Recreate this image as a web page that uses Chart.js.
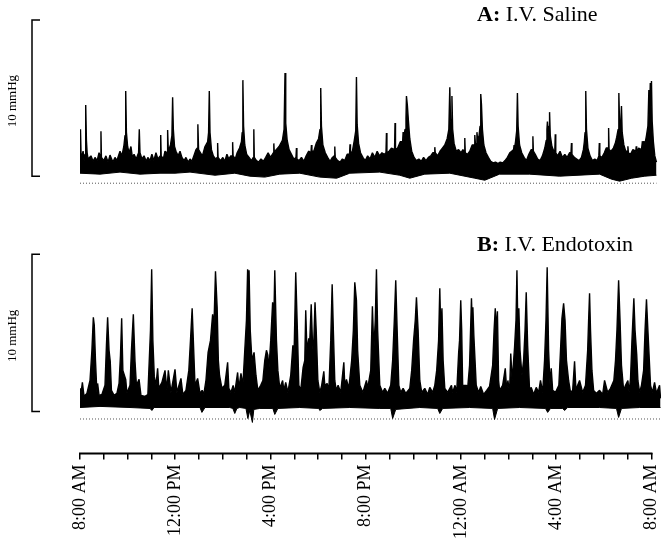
<!DOCTYPE html>
<html>
<head>
<meta charset="utf-8">
<title>Bladder pressure traces</title>
<script src="https://cdn.jsdelivr.net/npm/chart.js@4.4.1/dist/chart.umd.min.js"></script>
<style>
  html, body { margin: 0; padding: 0; background: #fff; }
  #tracesChart { display: block; }
</style>
</head>
<body>
<canvas id="tracesChart" width="666" height="540"></canvas>
<script>
/* =========================================
   Données lues sur la figure
   temps en heures depuis 8:00 AM, pression en mmHg
   ========================================= */
var hourTicks = [0, 1, 2, 3, 4, 5, 6, 7, 8, 9, 10, 11, 12, 13, 14, 15, 16, 17, 18, 19, 20, 21, 22, 23, 24];
var tickLabels = ['8:00 AM', '12:00 PM', '4:00 PM', '8:00 PM', '12:00 AM', '4:00 AM', '8:00 AM'];

// A: I.V. Saline - bord haut du tracé
var salineTrace = [
  [0,0.6],[0.02,3.01],[0.05,1.1],[0.13,1.6],[0.17,1.0],[0.21,1.4],[0.23,2.3],[0.25,4.55],[0.27,2.3],[0.30,1.5],
  [0.34,1.1],[0.46,1.3],[0.55,0.95],[0.63,1.2],[0.72,1.0],[0.80,1.5],[0.86,1.2],[0.88,2.88],[0.90,1.2],[1.00,1.0],
  [1.09,1.3],[1.18,0.9],[1.26,1.35],[1.38,0.9],[1.47,1.2],[1.55,1.0],[1.68,1.6],[1.76,1.3],[1.84,1.9],[1.89,2.6],
  [1.92,5.45],[1.95,2.8],[2.00,1.9],[2.06,1.5],[2.14,1.9],[2.20,1.2],[2.27,1.4],[2.36,1.1],[2.46,1.5],[2.49,3.01],
  [2.52,1.5],[2.60,1.1],[2.69,1.3],[2.78,0.95],[2.85,1.2],[2.94,1.0],[3.02,1.4],[3.10,1.0],[3.19,1.5],[3.27,1.1],
  [3.37,1.3],[3.39,2.63],[3.41,1.3],[3.50,1.1],[3.57,1.6],[3.66,1.5],[3.68,2.95],[3.71,1.6],[3.80,2.0],[3.86,2.6],
  [3.89,5.06],[3.92,3.0],[3.97,1.9],[4.03,1.6],[4.12,1.3],[4.20,1.6],[4.28,1.2],[4.37,1.0],[4.45,1.2],[4.54,0.9],
  [4.62,1.1],[4.70,0.95],[4.78,1.3],[4.87,1.7],[4.93,1.8],[4.95,3.33],[4.98,1.7],[5.06,1.5],[5.14,1.3],[5.25,1.9],
  [5.36,2.2],[5.40,2.8],[5.43,5.45],[5.46,2.8],[5.52,1.7],[5.60,1.3],[5.69,1.1],[5.76,1.2],[5.78,2.12],[5.80,1.2],
  [5.90,1.0],[6.00,1.2],[6.08,0.95],[6.17,1.4],[6.25,1.1],[6.33,1.3],[6.39,1.3],[6.41,2.18],[6.43,1.3],[6.52,1.1],
  [6.60,1.5],[6.70,1.8],[6.78,2.2],[6.81,2.8],[6.84,6.15],[6.87,3.2],[6.92,2.0],[7.00,1.4],[7.10,1.2],[7.20,1.0],
  [7.28,1.2],[7.30,3.01],[7.32,1.2],[7.41,1.0],[7.50,0.9],[7.60,1.1],[7.70,0.95],[7.80,1.2],[7.90,1.5],[8.00,1.2],
  [8.12,1.5],[8.14,2.1],[8.16,1.5],[8.24,1.7],[8.36,1.9],[8.50,2.3],[8.57,3.0],[8.61,6.60],[8.64,3.4],[8.70,2.3],
  [8.78,1.7],[8.88,1.4],[8.98,1.1],[9.07,1.2],[9.09,1.8],[9.11,1.1],[9.20,1.0],[9.30,1.2],[9.40,0.95],[9.50,1.3],
  [9.60,1.6],[9.70,1.5],[9.72,2.0],[9.74,1.6],[9.82,1.6],[9.92,2.1],[10.02,2.4],[10.08,3.0],[10.11,5.64],[10.14,3.2],
  [10.20,2.0],[10.30,1.5],[10.40,1.2],[10.50,0.95],[10.60,1.2],[10.68,1.3],[10.70,1.9],[10.72,1.2],[10.82,1.0],[10.92,0.9],
  [11.02,1.1],[11.12,1.0],[11.22,1.4],[11.32,1.4],[11.34,2.05],[11.36,1.4],[11.44,1.6],[11.52,2.3],[11.58,2.9],[11.61,6.35],
  [11.64,3.3],[11.70,2.1],[11.78,1.5],[11.88,1.2],[11.98,1.0],[12.08,1.3],[12.18,1.1],[12.28,1.5],[12.38,1.2],[12.48,1.6],
  [12.58,1.3],[12.68,1.5],[12.78,1.4],[12.85,1.5],[12.87,2.76],[12.89,1.5],[12.98,1.6],[13.08,1.8],[13.21,1.7],[13.23,3.40],
  [13.25,1.7],[13.34,1.8],[13.45,2.2],[13.55,2.2],[13.57,2.82],[13.59,2.4],[13.65,3.0],[13.69,3.7],[13.71,5.13],[13.75,4.5],
  [13.79,3.6],[13.85,2.4],[13.93,1.6],[14.03,1.2],[14.13,1.0],[14.23,1.1],[14.33,0.95],[14.43,1.2],[14.53,1.0],[14.63,1.2],
  [14.73,1.3],[14.82,1.5],[14.88,1.5],[14.90,1.86],[14.92,1.5],[15.02,1.3],[15.12,1.6],[15.22,1.8],[15.32,2.0],[15.42,2.4],
  [15.49,3.0],[15.53,5.70],[15.56,3.6],[15.59,3.4],[15.62,5.13],[15.65,3.0],[15.71,2.1],[15.80,1.6],[15.90,1.7],[16.00,1.5],
  [16.08,1.7],[16.14,1.6],[16.16,2.44],[16.18,1.5],[16.27,1.4],[16.37,1.6],[16.47,2.0],[16.56,2.0],[16.58,2.63],[16.61,2.0],
  [16.65,2.1],[16.67,2.82],[16.70,2.3],[16.76,2.6],[16.80,3.2],[16.83,5.26],[16.86,4.6],[16.90,3.0],[16.96,2.0],[17.05,1.5],
  [17.15,1.2],[17.25,0.95],[17.35,0.85],[17.45,0.9],[17.55,0.8],[17.65,0.9],[17.75,0.85],[17.85,1.0],[17.95,1.2],[18.05,1.5],
  [18.13,1.6],[18.21,1.7],[18.23,2.0],[18.25,1.8],[18.29,2.2],[18.34,2.9],[18.37,5.32],[18.40,3.2],[18.46,2.0],[18.55,1.5],
  [18.65,1.2],[18.75,1.0],[18.85,1.4],[18.95,1.7],[19.00,1.7],[19.02,2.56],[19.04,1.6],[19.12,1.4],[19.22,1.1],[19.32,1.0],
  [19.42,1.3],[19.52,1.8],[19.58,2.3],[19.61,3.0],[19.63,3.5],[19.66,2.8],[19.70,3.2],[19.72,4.10],[19.75,2.6],[19.82,1.9],
  [19.90,1.6],[19.94,1.6],[19.96,2.69],[19.98,1.5],[20.06,1.3],[20.16,1.6],[20.26,1.2],[20.36,1.4],[20.46,1.2],[20.56,1.5],
  [20.62,1.5],[20.64,2.12],[20.66,1.4],[20.76,1.2],[20.86,1.1],[20.96,1.0],[21.06,1.2],[21.14,1.7],[21.18,2.2],[21.21,2.8],
  [21.24,5.45],[21.27,3.0],[21.33,1.8],[21.42,1.3],[21.52,1.0],[21.62,1.1],[21.72,1.0],[21.79,1.3],[21.81,2.12],[21.83,1.3],
  [21.92,1.2],[22.02,1.5],[22.10,1.8],[22.18,1.8],[22.20,3.08],[22.22,1.7],[22.30,1.6],[22.40,1.8],[22.48,2.1],[22.54,2.5],
  [22.60,3.0],[22.63,5.32],[22.66,3.4],[22.70,3.0],[22.74,4.49],[22.77,2.8],[22.84,2.0],[22.92,1.6],[22.99,1.6],[23.01,1.92],
  [23.03,1.5],[23.12,1.4],[23.22,1.7],[23.34,1.6],[23.36,1.92],[23.38,1.5],[23.46,1.8],[23.58,1.7],[23.62,2.24],[23.64,1.9],
  [23.68,2.24],[23.72,2.0],[23.79,2.6],[23.85,3.2],[23.89,5.51],[23.92,4.0],[23.95,5.96],[23.97,4.5],[24.00,6.09],[24.03,3.5],
  [24.08,2.2],[24.14,1.3],[24.21,0.9]
];
// A - bord bas de la bande de bruit
var salineFloor = [
  [0,0.19],[0.84,0.13],[1.68,0.26],[2.52,0.13],[3.36,0.19],[3.99,0.19],[4.62,0.26],[5.67,0.06],[6.50,0.19],[7.13,0],
  [7.76,-0.06],[8.39,0.13],[9.23,0.19],[10.07,-0.06],[10.78,-0.13],[11.33,0.19],[12.59,0.26],[13.43,0.06],[13.85,-0.13],[14.48,0.13],
  [15.53,0.19],[16.58,-0.13],[17.00,-0.26],[17.62,0.13],[18.88,0.13],[20.14,0],[21.82,0.13],[22.32,-0.19],[22.66,-0.32],[23.17,-0.13],
  [23.72,0],[24.21,0.06]
];
var salineDotted = [[0,-0.45],[24.21,-0.45]];

// B: I.V. Endotoxin - bord haut du tracé
var endotoxinTrace = [
  [0,0.70],[0.01,1.47],[0.02,0.83],[0.10,1.85],[0.17,0.96],[0.29,1.15],[0.42,1.97],[0.50,3.89],[0.56,5.99],[0.60,5.48],
  [0.65,3.25],[0.71,1.21],[0.74,1.78],[0.80,1.02],[0.92,1.08],[1.05,1.66],[1.11,4.20],[1.16,5.99],[1.22,3.89],[1.27,3.19],
  [1.32,1.34],[1.43,1.02],[1.55,1.15],[1.64,1.78],[1.70,3.57],[1.75,5.92],[1.80,2.61],[1.92,2.04],[1.97,1.15],[2.10,1.66],
  [2.16,3.89],[2.24,6.18],[2.31,3.19],[2.37,1.66],[2.48,2.04],[2.56,1.02],[2.73,0.96],[2.85,1.08],[2.96,5.16],[3.01,9.05],
  [3.06,4.52],[3.12,2.23],[3.19,1.66],[3.26,2.74],[3.31,1.47],[3.44,1.85],[3.57,2.61],[3.65,1.34],[3.71,2.61],[3.82,1.21],
  [3.99,2.68],[4.07,1.21],[4.24,2.10],[4.32,1.08],[4.45,1.34],[4.57,2.61],[4.64,4.52],[4.71,6.56],[4.76,4.52],[4.83,1.66],
  [4.94,2.10],[5.04,1.15],[5.13,1.34],[5.20,1.08],[5.29,1.97],[5.38,3.76],[5.48,4.52],[5.57,6.18],[5.62,5.16],[5.69,8.92],
  [5.76,6.62],[5.81,3.25],[5.86,2.29],[5.96,1.47],[6.08,1.66],[6.20,3.12],[6.25,1.47],[6.34,1.21],[6.43,1.66],[6.50,1.21],
  [6.62,2.48],[6.67,1.47],[6.76,2.42],[6.84,1.66],[6.92,3.89],[6.99,5.80],[7.04,9.05],[7.07,7.07],[7.10,8.98],[7.15,5.16],
  [7.22,3.25],[7.31,3.76],[7.39,2.29],[7.47,1.34],[7.59,1.66],[7.68,1.97],[7.76,3.25],[7.83,3.89],[7.89,3.57],[7.93,2.61],
  [8.01,4.52],[8.09,6.94],[8.14,5.80],[8.18,8.98],[8.25,4.52],[8.31,2.61],[8.39,1.47],[8.51,1.97],[8.56,1.34],[8.64,1.85],
  [8.73,1.21],[8.85,2.29],[8.94,4.20],[8.98,2.93],[9.02,5.80],[9.06,8.85],[9.13,5.16],[9.19,1.66],[9.27,1.34],[9.37,2.80],
  [9.44,3.25],[9.48,6.43],[9.53,3.89],[9.61,4.65],[9.65,4.52],[9.71,6.82],[9.76,4.52],[9.80,3.57],[9.87,6.94],[9.92,5.16],
  [9.99,1.97],[10.07,1.21],[10.15,1.66],[10.24,2.55],[10.28,1.66],[10.38,1.78],[10.45,1.34],[10.53,4.52],[10.59,8.09],[10.64,5.16],
  [10.70,1.97],[10.76,1.34],[10.84,1.66],[10.95,1.21],[11.08,3.12],[11.12,1.66],[11.19,2.04],[11.29,1.47],[11.41,3.25],[11.48,5.16],
  [11.54,8.22],[11.61,7.07],[11.66,3.89],[11.75,1.66],[11.88,1.21],[12.03,1.97],[12.08,1.47],[12.21,2.61],[12.28,6.69],[12.34,3.89],
  [12.40,5.80],[12.45,9.05],[12.50,5.16],[12.59,1.66],[12.71,1.21],[12.80,1.47],[12.92,1.15],[13.05,1.66],[13.13,3.25],[13.20,5.80],
  [13.26,8.34],[13.32,5.16],[13.39,1.66],[13.47,1.21],[13.57,1.47],[13.68,1.15],[13.85,1.47],[13.93,2.61],[14.01,4.52],[14.08,5.80],
  [14.13,7.26],[14.20,5.16],[14.27,1.97],[14.35,1.21],[14.48,1.47],[14.60,1.08],[14.69,1.53],[14.81,1.21],[14.90,1.66],[14.98,2.61],
  [15.06,4.52],[15.11,7.84],[15.15,5.16],[15.20,6.56],[15.25,3.25],[15.32,1.47],[15.44,1.21],[15.60,1.66],[15.65,1.21],[15.75,1.66],
  [15.82,1.21],[15.90,3.69],[15.94,4.52],[15.99,7.07],[16.03,5.16],[16.07,1.66],[16.23,1.66],[16.28,1.47],[16.36,2.93],[16.44,7.20],
  [16.47,5.80],[16.50,6.62],[16.54,4.84],[16.58,3.57],[16.64,1.66],[16.74,1.21],[16.83,1.59],[16.95,1.08],[17.08,1.34],[17.20,1.59],
  [17.33,2.93],[17.39,5.16],[17.44,6.56],[17.48,5.16],[17.53,6.37],[17.58,1.97],[17.62,1.34],[17.75,1.66],[17.86,2.74],[17.92,1.34],
  [17.97,1.97],[18.04,1.21],[18.09,3.69],[18.15,1.97],[18.25,4.08],[18.31,5.80],[18.35,8.98],[18.39,5.16],[18.43,6.56],[18.48,3.89],
  [18.56,2.29],[18.63,3.25],[18.69,5.16],[18.74,7.58],[18.80,4.20],[18.88,1.34],[18.95,1.53],[19.05,1.08],[19.16,1.53],[19.26,1.21],
  [19.34,1.97],[19.43,1.21],[19.51,3.25],[19.57,5.80],[19.62,9.17],[19.68,3.89],[19.74,1.66],[19.79,2.74],[19.85,1.34],[19.97,1.21],
  [20.11,1.66],[20.18,3.89],[20.24,5.92],[20.31,6.88],[20.37,5.80],[20.43,3.25],[20.52,1.97],[20.60,1.21],[20.69,1.34],[20.77,3.19],
  [20.83,1.34],[20.90,1.66],[20.98,1.97],[21.11,1.21],[21.23,1.66],[21.32,3.89],[21.36,5.80],[21.40,7.52],[21.44,5.16],[21.50,2.61],
  [21.57,1.34],[21.69,1.15],[21.82,1.34],[21.95,1.08],[22.03,1.97],[22.16,1.21],[22.28,1.47],[22.42,1.97],[22.49,3.25],[22.55,5.16],
  [22.62,8.34],[22.68,5.80],[22.74,2.93],[22.83,1.34],[22.91,1.66],[23.01,1.97],[23.06,1.21],[23.12,2.10],[23.18,4.52],[23.26,7.20],
  [23.31,5.16],[23.38,3.63],[23.43,1.97],[23.50,1.21],[23.58,1.66],[23.67,2.61],[23.73,5.16],[23.79,7.13],[23.85,5.16],[23.89,3.89],
  [23.96,1.66],[24.04,1.21],[24.13,1.85],[24.21,1.15],[24.34,1.66],[24.38,0.83]
];
// B - bord bas de la bande de bruit
var endotoxinFloor = [
  [0,0.25],[0.84,0.32],[2.10,0.25],[2.94,0.19],[3.02,0.06],[3.11,0.25],[3.57,0.25],[5.04,0.25],[5.12,-0.06],[5.25,0.25],
  [6.29,0.25],[6.42,0.19],[6.50,-0.13],[6.59,0.19],[6.71,0.25],[6.97,0.19],[7.05,-0.45],[7.13,0.06],[7.24,-0.70],[7.30,0.13],
  [7.55,0.19],[8.10,0.19],[8.18,-0.19],[8.31,0.19],[9.23,0.25],[10.03,0.19],[10.07,0.06],[10.19,0.19],[11.33,0.25],[12.59,0.19],
  [13.05,0.19],[13.13,-0.45],[13.26,0.13],[14.27,0.25],[15.02,0.19],[15.11,-0.13],[15.23,0.19],[16.36,0.25],[17.33,0.19],[17.41,-0.51],
  [17.54,0.19],[18.46,0.25],[19.55,0.19],[19.64,-0.06],[19.76,0.19],[20.27,0.19],[20.35,0.06],[20.48,0.25],[21.82,0.25],[22.53,0.19],
  [22.62,-0.38],[22.74,0.19],[23.50,0.25],[24.38,0.25]
];
var endotoxinDotted = [[0,-0.48],[24.38,-0.48]];

var serifFont = '"Liberation Serif", "Times New Roman", serif';

function toPoints(pairs) {
    return pairs.map(function(p) { return { x: p[0], y: p[1] }; });
}

function traceSet(label, pairs, axis, fill) {
    return {
        label: label,
        data: toPoints(pairs),
        yAxisID: axis,
        borderColor: '#000',
        backgroundColor: '#000',
        borderWidth: fill ? 1.4 : 1,
        borderJoinStyle: 'bevel',
        pointRadius: 0,
        tension: 0,
        fill: fill ? '-1' : false
    };
}

function dottedSet(label, pairs, axis) {
    return {
        label: label,
        data: toPoints(pairs),
        yAxisID: axis,
        borderColor: '#555',
        borderWidth: 1,
        borderDash: [1, 2],
        pointRadius: 0,
        fill: false
    };
}

/* =========================================
   Barres d'échelle, titres et axe du temps
   ========================================= */
var panelNotes = {
    id: 'panelNotes',
    afterDraw: function(chart) {
        var ctx = chart.ctx;
        var xs = chart.scales.x;
        ctx.save();
        ctx.fillStyle = '#000';
        ctx.strokeStyle = '#000';

        // axe du temps
        ctx.lineWidth = 2;
        ctx.beginPath();
        ctx.moveTo(xs.getPixelForValue(0) - 1, xs.top);
        ctx.lineTo(xs.getPixelForValue(24) + 1, xs.top);
        ctx.stroke();

        var panels = [
            { axis: 'yA', letter: 'A:', name: ' I.V. Saline', titleY: 21 },
            { axis: 'yB', letter: 'B:', name: ' I.V. Endotoxin', titleY: 251 }
        ];
        panels.forEach(function(p) {
            var ys = chart.scales[p.axis];
            var y0 = ys.getPixelForValue(0);
            var y10 = ys.getPixelForValue(10);

            // barre 10 mmHg
            ctx.lineWidth = 1.5;
            ctx.beginPath();
            ctx.moveTo(40, y10);
            ctx.lineTo(32, y10);
            ctx.lineTo(32, y0);
            ctx.lineTo(40, y0);
            ctx.stroke();

            ctx.save();
            ctx.translate(13, (y0 + y10) / 2 + 3);
            ctx.rotate(-Math.PI / 2);
            ctx.font = '13px ' + serifFont;
            ctx.textAlign = 'center';
            ctx.textBaseline = 'middle';
            ctx.fillText('10 mmHg', 0, 0);
            ctx.restore();

            // titre du panneau
            ctx.textAlign = 'left';
            ctx.textBaseline = 'alphabetic';
            ctx.font = 'bold 22px ' + serifFont;
            ctx.fillText(p.letter, 477, p.titleY);
            var w = ctx.measureText(p.letter).width;
            ctx.font = '22px ' + serifFont;
            ctx.fillText(p.name, 477 + w, p.titleY);
        });
        ctx.restore();
    }
};

var tracesCtx = document.getElementById('tracesChart').getContext('2d');

var tracesChart = new Chart(tracesCtx, {
    type: 'line',
    data: {
        datasets: [
            traceSet('Saline bas', salineFloor, 'yA', false),
            traceSet('I.V. Saline', salineTrace, 'yA', true),
            traceSet('Endotoxin bas', endotoxinFloor, 'yB', false),
            traceSet('I.V. Endotoxin', endotoxinTrace, 'yB', true),
            dottedSet('Saline zéro', salineDotted, 'yA'),
            dottedSet('Endotoxin zéro', endotoxinDotted, 'yB')
        ]
    },
    options: {
        responsive: false,
        animation: false,
        devicePixelRatio: 1,
        layout: {
            autoPadding: false,
            padding: { left: 72, right: 5, top: 7.5, bottom: -4 }
        },
        plugins: {
            legend: { display: false },
            tooltip: { enabled: false }
        },
        scales: {
            x: {
                type: 'linear',
                position: 'bottom',
                min: 0,
                max: 24.4,
                afterBuildTicks: function(scale) {
                    scale.ticks = hourTicks.map(function(h) { return { value: h }; });
                },
                afterFit: function(scale) {
                    // pas de marge pour le débord des étiquettes
                    scale.paddingLeft = 0;
                    scale.paddingRight = 0;
                },
                grid: {
                    display: true,
                    drawOnChartArea: false,
                    drawTicks: true,
                    tickLength: 6,
                    color: '#000',
                    lineWidth: 1.5
                },
                border: { display: false },
                ticks: {
                    autoSkip: false,
                    minRotation: 90,
                    maxRotation: 90,
                    padding: 5,
                    color: '#000',
                    font: { family: serifFont, size: 18 },
                    callback: function(value) {
                        return value % 4 === 0 ? tickLabels[value / 4] : '';
                    }
                }
            },
            yB: {
                type: 'linear',
                position: 'left',
                stack: 'traces',
                stackWeight: 238,
                min: -2.675,
                max: 12.48,
                grid: { display: false },
                border: { display: false },
                ticks: { display: false }
            },
            yA: {
                type: 'linear',
                position: 'left',
                stack: 'traces',
                stackWeight: 207.5,
                min: -2.5,
                max: 10.8,
                grid: { display: false },
                border: { display: false },
                ticks: { display: false }
            }
        }
    },
    plugins: [panelNotes]
});
</script>
</body>
</html>
